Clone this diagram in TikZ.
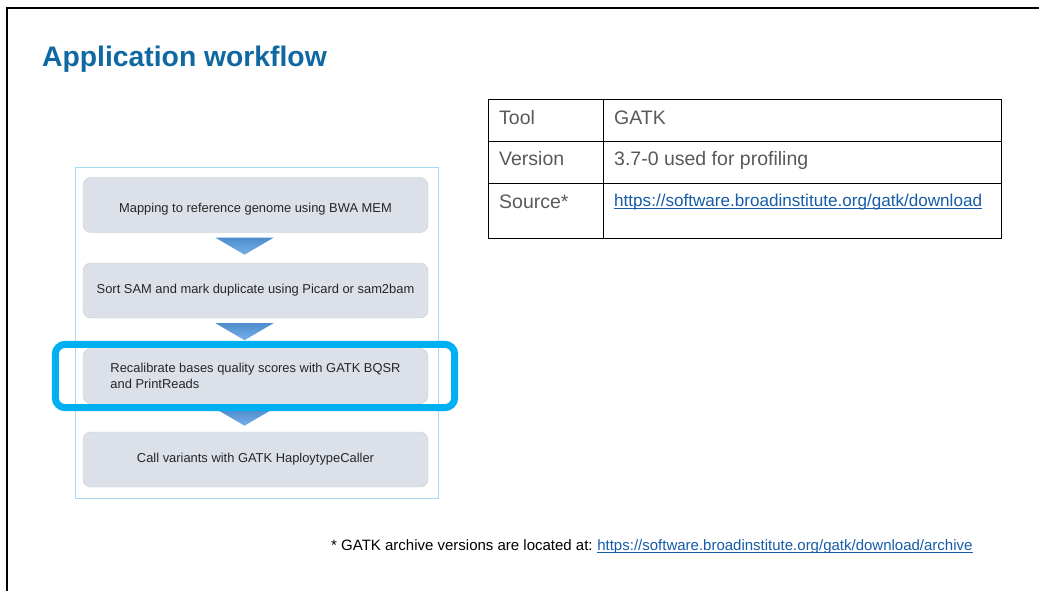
\documentclass[tikz,border=0pt]{standalone}
\usepackage{fontspec}
\setmainfont{Liberation Sans}
\usetikzlibrary{calc,positioning}
\definecolor{titleBlue}{RGB}{16,104,163}
\definecolor{stepFill}{RGB}{220,225,233}
\definecolor{stepLine}{RGB}{198,202,208}
\definecolor{frameBlue}{RGB}{165,218,242}
\definecolor{hiliteBlue}{RGB}{0,176,240}
\definecolor{arrowTop}{RGB}{78,140,205}
\definecolor{arrowBot}{RGB}{118,176,232}
\definecolor{cellText}{RGB}{89,89,89}
\definecolor{linkBlue}{RGB}{22,92,168}

\begin{document}
\begin{tikzpicture}[x=1pt,y=-1pt,
  stepbox/.style={draw=stepLine,fill=stepFill,rounded corners=8pt,minimum width=345pt,minimum height=55pt,
    inner sep=0pt,align=left,text=black!85,font=\fontsize{12.9}{15.5}\selectfont},
  celltxt/.style={anchor=base west,inner sep=0pt,text=cellText,font=\fontsize{19.5}{22}\selectfont}]
  \useasboundingbox (0,0) rectangle (1039,591);
  \draw[line width=1.2pt] (7,591) -- (7,8) -- (1039,8);
  \node[anchor=base west,inner sep=0pt,text=titleBlue,font=\fontsize{28.3}{30}\selectfont\bfseries] (title) at (42,67) {Application workflow};
  \def\boxx{255.5}
  \draw[frameBlue,line width=0.9pt] (75,167) rectangle (438,498);
  \foreach \nm/\yy/\txt in {map/205/{\raisebox{-4pt}[\height][\depth]{Mapping to reference genome using BWA MEM}},
      sort/290.5/{Sort SAM and mark duplicate using Picard or sam2bam},
      recal/376/{Recalibrate bases quality scores with GATK BQSR\\and PrintReads},
      call/459.5/{Call variants with GATK HaploytypeCaller}}{
    \node[stepbox] (\nm) at (\boxx,\yy) {\txt};
  }
  \foreach \nm in {map,sort,recal}{
    \shade[top color=arrowTop,bottom color=arrowBot] ($(\nm.south)+(-40,5)$) -- ++(58,0) -- ++(-29,17) -- cycle;
  }
  \draw[hiliteBlue,line width=7pt,rounded corners=10pt] ($(recal.north west)+(-27.5,-4)$) rectangle ($(recal.south east)+(26.5,4)$);
  \draw[line width=1pt] (488,100) rectangle (1001,238);
  \draw[line width=1pt] (603,100) -- (603,238);
  \foreach \yy in {142,183}{
    \draw[line width=1pt] (488,\yy) -- (1001,\yy);
  }
  \node[celltxt] (toolkey) at (499,125) {Tool};
  \node[celltxt] (toolval) at (614,125) {GATK};
  \node[celltxt] (verkey) at (499,166) {Version};
  \node[celltxt] (verval) at (614,166) {3.7-0 used for profiling};
  \node[celltxt] (srckey) at (499,208) {Source*};
  \node[anchor=base west,inner sep=0pt,text=linkBlue,font=\fontsize{17.1}{20}\selectfont] (srclink) at (614,206) {https://software.broadinstitute.org/gatk/download};
  \draw[linkBlue,line width=1pt] ($(srclink.base west)+(0,2.5)$) -- ($(srclink.base east)+(0,2.5)$);
  \node[anchor=base west,inner sep=0pt,font=\fontsize{15}{18}\selectfont] (note) at (331,550) {* GATK archive versions are located at:};
  \node[anchor=base west,inner sep=0pt,text=linkBlue,font=\fontsize{15}{18}\selectfont] (notelink) at ($(note.base east)+(4.2,0)$) {https://software.broadinstitute.org/gatk/download/archive};
  \draw[linkBlue,line width=0.9pt] ($(notelink.base west)+(0,2.5)$) -- ($(notelink.base east)+(0,2.5)$);
\end{tikzpicture}
\end{document}
